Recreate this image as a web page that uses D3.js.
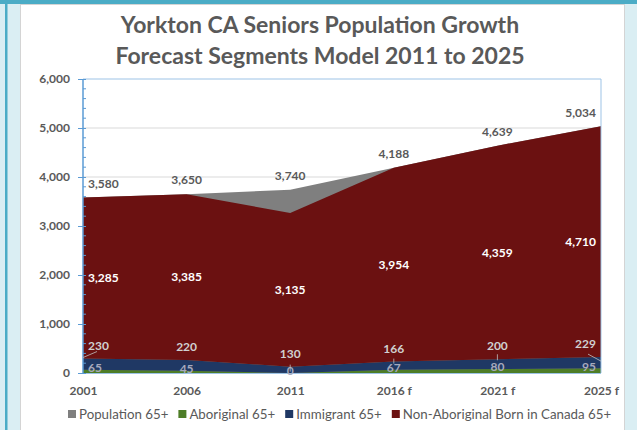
<!DOCTYPE html>
<html>
<head>
<meta charset="utf-8">
<script src="https://cdn.jsdelivr.net/npm/d3@7"></script>
<style>
  body { margin: 0; background: #daeef3; }
  svg text { font-family: Lato, "Open Sans", sans-serif; }
</style>
</head>
<body>
<div id="chart-area"></div>
<script>
const years = ["2001", "2006", "2011", "2016 f", "2021 f", "2025 f"];
const population = [3580, 3650, 3740, 4188, 4639, 5034];
const aboriginal = [65, 45, 0, 67, 80, 95];
const immigrant = [230, 220, 130, 166, 200, 229];
const nonAboriginal = [3285, 3385, 3135, 3954, 4359, 4710];
const yTicks = [0, 1000, 2000, 3000, 4000, 5000, 6000];
const titleLines = ["Yorkton CA Seniors Population Growth", "Forecast Segments Model 2011 to 2025"];
const legendNames = ["Population 65+", "Aboriginal 65+", "Immigrant 65+", "Non-Aboriginal Born in Canada 65+"];

const chartSize = { width: 637, height: 430 };
const plot = { left: 83, right: 601, top: 79, bottom: 373 };
const colors = {
  population: "#7f7f7f",
  aboriginal: "#4e7d27",
  immigrant: "#1f3864",
  nonAboriginal: "#6b1111"
};
const fmt = d3.format(",");

const drawChart = function() {
  const svg = d3
    .select("#chart-area")
    .append("svg")
    .attr("width", chartSize.width)
    .attr("height", chartSize.height);

  // frame
  svg.append("rect").attr("x", 0).attr("y", 0).attr("width", 637).attr("height", 4).attr("fill", "#4bacc6");
  svg.append("rect").attr("x", 5).attr("y", 0).attr("width", 2.5).attr("height", 430).attr("fill", "#4bacc6");
  svg.append("rect")
    .attr("x", 20.5).attr("y", 4.5).attr("width", 604).attr("height", 430)
    .attr("fill", "#ffffff").attr("stroke", "#d4d4d4");

  svg.append("g")
    .selectAll("text")
    .data(titleLines)
    .join("text")
    .attr("x", 320)
    .attr("y", (d, i) => 33 + i * 31)
    .attr("text-anchor", "middle")
    .attr("font-size", 23)
    .attr("font-weight", "bold")
    .attr("fill", "#595959")
    .text(d => d);

  const x = d3.scalePoint().domain(years).range([plot.left, plot.right]);
  const y = d3.scaleLinear().domain([0, 6000]).range([plot.bottom, plot.top]);

  // gridlines
  svg.append("g")
    .selectAll("line")
    .data(yTicks.slice(1, -1))
    .join("line")
    .attr("x1", plot.left).attr("x2", plot.right)
    .attr("y1", d => y(d)).attr("y2", d => y(d))
    .attr("stroke", "#d9d9d9");

  const rows = years.map((yr, i) => ({
    year: yr,
    population: population[i],
    aboriginal: aboriginal[i],
    immigrant: immigrant[i],
    nonAboriginal: nonAboriginal[i]
  }));

  const popArea = d3.area()
    .x(d => x(d.year))
    .y0(y(0))
    .y1(d => y(d.population));
  svg.append("path").datum(rows).attr("d", popArea).attr("fill", colors.population);

  const stack = d3.stack().keys(["aboriginal", "immigrant", "nonAboriginal"]);
  const series = stack(rows);
  const area = d3.area()
    .x(d => x(d.data.year))
    .y0(d => y(d[0]))
    .y1(d => y(d[1]));
  svg.append("g")
    .selectAll("path")
    .data(series)
    .join("path")
    .attr("d", area)
    .attr("fill", s => colors[s.key]);

  // plot border and axes
  svg.append("path")
    .attr("d", `M${plot.left},${plot.top}H${plot.right}V${plot.bottom}`)
    .attr("fill", "none").attr("stroke", "#9dc3e6");
  svg.append("line")
    .attr("x1", plot.left).attr("x2", plot.right)
    .attr("y1", plot.bottom + 0.5).attr("y2", plot.bottom + 0.5)
    .attr("stroke", "#9dc3e6");

  const yAxis = d3.axisLeft(y)
    .tickValues(yTicks)
    .tickFormat(fmt)
    .tickSize(5)
    .tickPadding(8);
  const ag = svg.append("g")
    .attr("transform", `translate(${plot.left},0)`)
    .call(yAxis);
  ag.select(".domain").attr("stroke", "#5b9bd5").attr("stroke-width", 1.5).attr("d", `M0,${plot.top}V${plot.bottom}`);
  ag.selectAll(".tick line").attr("stroke", "#5b9bd5").attr("x2", -5).attr("x1", 3);
  ag.selectAll(".tick text")
    .attr("font-size", 12).attr("font-weight", "bold").attr("fill", "#595959")
    .attr("font-family", "Lato, sans-serif");

  const minor = d3.range(0, 6001, 200).filter(v => v % 1000 !== 0);
  ag.append("g")
    .selectAll("line")
    .data(minor)
    .join("line")
    .attr("x1", 0).attr("x2", 3)
    .attr("y1", d => y(d)).attr("y2", d => y(d))
    .attr("stroke", "#5b9bd5");

  const xAxis = d3.axisBottom(x).tickSize(0).tickPadding(13);
  const xg = svg.append("g")
    .attr("transform", `translate(0,${plot.bottom})`)
    .call(xAxis);
  xg.select(".domain").remove();
  xg.selectAll(".tick text")
    .attr("font-size", 12).attr("font-weight", "bold").attr("fill", "#595959")
    .attr("font-family", "Lato, sans-serif");

  // data labels, kept inside the plot at the edges
  const anchorOf = i => (i === 0 ? "start" : i === years.length - 1 ? "end" : "middle");
  const labelX = i => (i === 0 ? plot.left + 5 : i === years.length - 1 ? plot.right - 5 : x(years[i]));

  const addLabels = (values, yPos, color, cls) => {
    svg.append("g")
      .attr("class", cls)
      .selectAll("text")
      .data(values)
      .join("text")
      .attr("x", (d, i) => labelX(i))
      .attr("y", (d, i) => yPos(d, i))
      .attr("dy", "0.35em")
      .attr("text-anchor", (d, i) => anchorOf(i))
      .attr("font-size", 12)
      .attr("font-weight", "bold")
      .attr("fill", color)
      .text(d => fmt(d));
  };

  const base = i => aboriginal[i] + immigrant[i];
  addLabels(population, d => y(d) - 14, "#595959", "pop-labels");
  addLabels(nonAboriginal, (d, i) => y(base(i) + d / 2), "#ffffff", "non-labels");
  addLabels(immigrant, (d, i) => y(base(i)) - 13, "#d0d0d0", "imm-labels");
  addLabels(aboriginal, d => y(d) - 2, "#a7a9bc", "abo-labels");

  // leader lines for immigrant labels
  const leaders = [
    [x(years[0]), y(base(0)) - 1, plot.left + 14, y(base(0)) - 7],
    [x(years[2]), y(base(2)) - 2, x(years[2]), y(base(2)) + 5],
    [x(years[3]), y(base(3)) - 3, x(years[3]), y(base(3)) + 2],
    [x(years[4]), y(base(4)) - 5, x(years[4]), y(base(4)) + 1],
    [plot.right, y(base(5)) + 4, plot.right - 13, y(base(5)) - 3]
  ];
  svg.append("g")
    .selectAll("line")
    .data(leaders)
    .join("line")
    .attr("x1", d => d[0]).attr("y1", d => d[1])
    .attr("x2", d => d[2]).attr("y2", d => d[3])
    .attr("stroke", "#bfbfbf").attr("stroke-width", 0.8);

  // legend
  const legendColors = [colors.population, colors.aboriginal, colors.immigrant, colors.nonAboriginal];
  const legend = svg.append("g").attr("transform", "translate(0,414)");
  let lx = 68;
  legendNames.forEach((name, i) => {
    legend.append("rect")
      .attr("x", lx).attr("y", -4).attr("width", 8).attr("height", 8)
      .attr("fill", legendColors[i]);
    const t = legend.append("text")
      .attr("x", lx + 11)
      .attr("dy", "0.35em")
      .attr("font-size", 13.3)
      .attr("fill", "#595959")
      .text(name);
    lx += 11 + t.node().getComputedTextLength() + 10;
  });
};

window.onload = drawChart;
</script>
</body>
</html>
